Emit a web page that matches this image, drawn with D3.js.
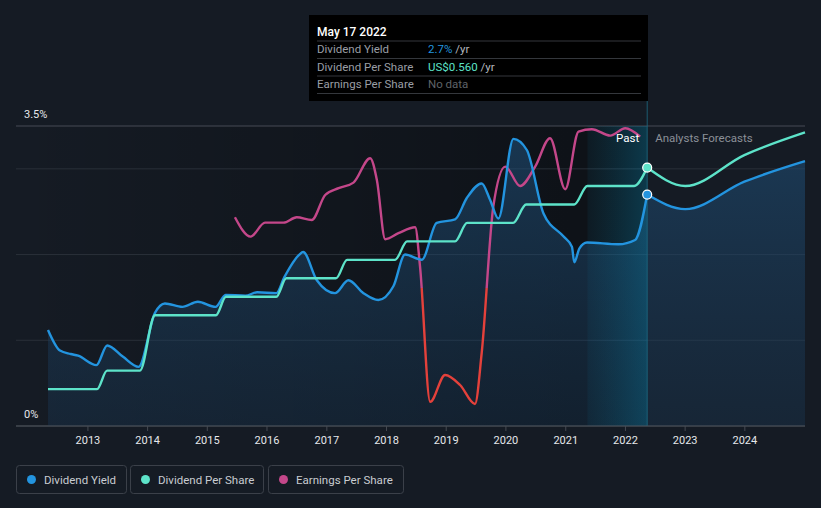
<!DOCTYPE html>
<html><head><meta charset="utf-8">
<script src="https://cdn.jsdelivr.net/npm/d3@7"></script>
<style>
html,body{margin:0;padding:0;background:#151b24;}
svg{display:block;font-family:Roboto,"Noto Sans",sans-serif;}
</style></head>
<body><svg id="c" width="821" height="508"></svg>
<script>
// ---- data ----
const yieldDates = ["2012-05-05","2012-07-17","2012-09-21","2012-11-05","2013-02-25","2013-05-02","2013-08-05","2013-11-10","2014-02-18","2014-04-20","2014-08-05","2014-11-07","2015-02-24","2015-04-26","2015-08-25","2015-11-05","2016-03-01","2016-04-20","2016-07-20","2016-08-12","2016-11-04","2017-02-23","2017-05-16","2017-08-16","2017-11-15","2018-02-15","2018-04-27","2018-08-08","2018-11-07","2019-02-27","2019-05-10","2019-08-09","2019-09-29","2019-11-19","2020-02-19","2020-05-11","2020-08-21","2020-12-22","2021-02-11","2021-02-25","2021-03-28","2021-05-14","2021-11-22","2022-03-04","2022-05-17"];
const yieldValues = [1.12,0.88,0.84,0.82,0.71,0.94,0.81,0.69,1.32,1.43,1.39,1.45,1.39,1.53,1.52,1.56,1.55,1.74,2.00,2.03,1.70,1.55,1.70,1.55,1.47,1.63,2.00,1.94,2.37,2.41,2.66,2.83,2.64,2.42,3.35,3.22,2.48,2.21,2.09,1.91,2.07,2.14,2.12,2.17,2.70];
const yieldFcDates = ["2022-05-17","2023-01-05","2024-01-01","2025-01-06"];
const yieldFcValues = [2.70,2.53,2.85,3.09];

const dpsDates = ["2012-05-05","2013-03-01","2013-05-01","2013-11-18","2014-02-18","2015-02-26","2015-04-28","2016-03-01","2016-05-01","2017-03-01","2017-05-08","2018-02-25","2018-05-10","2019-02-27","2019-05-12","2020-02-17","2020-05-07","2021-02-25","2021-05-16","2022-02-26","2022-05-17"];
const dpsValues = [0.08,0.08,0.12,0.12,0.24,0.24,0.28,0.28,0.32,0.32,0.36,0.36,0.40,0.40,0.44,0.44,0.48,0.48,0.52,0.52,0.56];
const dpsFcDates = ["2022-05-17","2023-01-05","2024-01-01","2025-01-06"];
const dpsFcValues = [0.56,0.52,0.587,0.636];

const epsDates = ["2015-06-22","2015-09-26","2015-12-23","2016-04-14","2016-07-04","2016-10-04","2016-12-25","2017-03-17","2017-06-16","2017-09-26","2017-11-06","2017-12-27","2018-03-18","2018-06-28","2018-07-28","2018-09-28","2018-12-28","2019-03-30","2019-06-29","2019-08-09","2019-10-19","2019-12-31","2020-03-31","2020-07-01","2020-09-30","2021-01-01","2021-03-23","2021-06-13","2021-10-03","2022-01-03","2022-04-04"];
const epsValues = [0.354,0.257,0.327,0.327,0.354,0.34,0.465,0.499,0.527,0.649,0.54,0.244,0.274,0.304,0.107,-0.569,-0.435,-0.485,-0.58,-0.325,0.407,0.607,0.51,0.607,0.749,0.494,0.782,0.794,0.762,0.799,0.757];

const yTickValues = [0, 1, 2, 3, 3.5];
const yTickLabels = {0:"0%", 3.5:"3.5%"};
const xTickYears = [2013,2014,2015,2016,2017,2018,2019,2020,2021,2022,2023,2024];
const todayDate = "2022-05-17";
const pastBandStart = "2021-05-17";
const legendItems = ["Dividend Yield","Dividend Per Share","Earnings Per Share"];
const tooltipRows = [["Dividend Yield","2.7%"," /yr"],["Dividend Per Share","US$0.560"," /yr"],["Earnings Per Share","No data",""]];

// ---- setup ----
const C = {bg:"#151b24", yld:"#2394df", dps:"#5de3c9", eps:"#c4478a", neg:"#e4413b"};
const P = d3.timeParse("%Y-%m-%d");
const svg = d3.select("#c");
const L = 16, R = 805, T = 126, B = 426, DL = 48;

const x = d3.scaleTime().domain([P("2012-05-05"), P("2025-01-06")]).range([DL, R]);
const y = d3.scaleLinear().domain([0, 3.5]).range([B, T]);
const yD = d3.scaleLinear().domain([0, 0.65]).range([B, T]);
const yE = d3.scaleLinear().domain([-0.69, 0.81]).range([B, T]);

const zip = (ds, vs) => ds.map((d,i)=>({d:P(d), v:vs[i]}));
const yld = zip(yieldDates, yieldValues), yldF = zip(yieldFcDates, yieldFcValues);
const dps = zip(dpsDates, dpsValues), dpsF = zip(dpsFcDates, dpsFcValues);
const eps = zip(epsDates, epsValues);

svg.append("rect").attr("width",821).attr("height",508).attr("fill",C.bg);
const defs = svg.append("defs");

const xT = x(P(todayDate)), xB = x(P(pastBandStart));

// past darkening
const g1 = defs.append("linearGradient").attr("id","pastDark").attr("gradientUnits","userSpaceOnUse")
  .attr("x1",L).attr("x2",xT).attr("y1",0).attr("y2",0);
g1.append("stop").attr("offset",0).attr("stop-color","#000").attr("stop-opacity",0);
g1.append("stop").attr("offset",1).attr("stop-color","#000").attr("stop-opacity",0.38);
svg.append("rect").attr("x",L).attr("y",T).attr("width",xT-L).attr("height",B-T).attr("fill","url(#pastDark)");

// area gradient
const g2 = defs.append("linearGradient").attr("id","areaG").attr("gradientUnits","userSpaceOnUse")
  .attr("x1",0).attr("x2",0).attr("y1",T).attr("y2",B);
g2.append("stop").attr("offset",0).attr("stop-color","#1f4f78").attr("stop-opacity",0.6);
g2.append("stop").attr("offset",1).attr("stop-color","#1a3a58").attr("stop-opacity",0.35);

// band gradient
const g3 = defs.append("linearGradient").attr("id","bandG").attr("gradientUnits","userSpaceOnUse")
  .attr("x1",xB).attr("x2",xT).attr("y1",0).attr("y2",0);
g3.append("stop").attr("offset",0).attr("stop-color","#0a7fa8").attr("stop-opacity",0.08);
g3.append("stop").attr("offset",1).attr("stop-color","#0a8fba").attr("stop-opacity",0.32);

// gridlines
svg.append("g").selectAll("line").data(yTickValues).join("line")
  .attr("x1",L).attr("x2",R).attr("y1",d=>y(d)).attr("y2",d=>y(d))
  .attr("stroke",d=>d===3.5?"#464b54":(d===0?"#454a52":"#2a3039")).attr("stroke-width",1);

// area under yield
const curve = d3.curveMonotoneX;
const area = d3.area().x(d=>x(d.d)).y0(B).y1(d=>y(d.v)).curve(curve);
svg.append("path").datum(yld).attr("d",area).attr("fill","url(#areaG)");
svg.append("path").datum(yldF).attr("d",area).attr("fill","url(#areaG)");

// past band
svg.append("rect").attr("x",xB).attr("y",T).attr("width",xT-xB).attr("height",B-T).attr("fill","url(#bandG)");
// today line
svg.append("line").attr("x1",xT).attr("x2",xT).attr("y1",100).attr("y2",B).attr("stroke","#1e6c84").attr("stroke-width",1).attr("opacity",0.8);

// axis
const xAxis = d3.axisBottom(x).tickValues(xTickYears.map(yv=>new Date(yv,0,1))).tickFormat(d3.timeFormat("%Y")).tickSize(5).tickSizeOuter(0);
const ax = svg.append("g").attr("transform",`translate(0,${B})`).call(xAxis);
ax.select(".domain").remove();
ax.selectAll(".tick line").attr("stroke","#454a52");
ax.selectAll(".tick text").attr("fill","#e6e8eb").attr("font-size",11).attr("dy","0.95em").attr("font-family","Roboto, sans-serif");
svg.append("line").attr("x1",L).attr("x2",R).attr("y1",B).attr("y2",B).attr("stroke","#454a52");

// y labels
svg.append("g").selectAll("text").data(Object.keys(yTickLabels).map(Number)).join("text")
  .attr("x",24).attr("y",d=>y(d)-8).attr("fill","#e6e8eb").attr("font-size",11).text(d=>yTickLabels[d]);

// lines
const line = (sc) => d3.line().x(d=>x(d.d)).y(d=>sc(d.v)).curve(curve);
const lw = 2.4;
// eps with clip
defs.append("clipPath").attr("id","posClip").append("rect").attr("x",0).attr("y",0).attr("width",821).attr("height",yE(0));
defs.append("clipPath").attr("id","negClip").append("rect").attr("x",0).attr("y",yE(0)).attr("width",821).attr("height",508);
svg.append("path").datum(eps).attr("d",line(yE)).attr("fill","none").attr("stroke",C.eps).attr("stroke-width",lw).attr("clip-path","url(#posClip)");
svg.append("path").datum(eps).attr("d",line(yE)).attr("fill","none").attr("stroke",C.neg).attr("stroke-width",lw).attr("clip-path","url(#negClip)");

svg.append("path").datum(yld).attr("d",line(y)).attr("fill","none").attr("stroke",C.yld).attr("stroke-width",lw);
svg.append("path").datum(yldF).attr("d",line(y)).attr("fill","none").attr("stroke",C.yld).attr("stroke-width",lw);
svg.append("path").datum(dps).attr("d",line(yD)).attr("fill","none").attr("stroke",C.dps).attr("stroke-width",lw);
svg.append("path").datum(dpsF).attr("d",line(yD)).attr("fill","none").attr("stroke",C.dps).attr("stroke-width",lw);

// today dots
svg.append("circle").attr("cx",xT).attr("cy",yD(dpsValues[dpsValues.length-1])).attr("r",4.5).attr("fill",C.dps).attr("stroke","#fff").attr("stroke-width",1.2);
svg.append("circle").attr("cx",xT).attr("cy",y(yieldValues[yieldValues.length-1])).attr("r",4.5).attr("fill",C.yld).attr("stroke","#fff").attr("stroke-width",1.2);

// past / forecast labels
svg.append("text").attr("x",xT-8).attr("y",142).attr("text-anchor","end").attr("fill","#ffffff").attr("font-size",11.5).text("Past");
svg.append("text").attr("x",xT+8).attr("y",142).attr("fill","#8b9098").attr("font-size",11.5).text("Analysts Forecasts");

// tooltip
const tt = svg.append("g");
tt.append("rect").attr("x",309).attr("y",15).attr("width",339).attr("height",86).attr("fill","#000");
tt.append("text").attr("x",317).attr("y",35.5).attr("fill","#fff").attr("font-size",12).attr("font-weight",500).text("May 17 2022");
[41,58.5,76,93.5].forEach(yy=>tt.append("line").attr("x1",317).attr("x2",641).attr("y1",yy).attr("y2",yy).attr("stroke","#34373c"));
const valColors = [C.yld, C.dps, "#5f6368"];
tooltipRows.forEach((r,i)=>{
  const by = 53 + i*17.6;
  tt.append("text").attr("x",317).attr("y",by).attr("fill","#9a9ea5").attr("font-size",11.5).text(r[0]);
  const t = tt.append("text").attr("x",428).attr("y",by).attr("font-size",11.5);
  t.append("tspan").attr("fill",valColors[i]).text(r[1]);
  t.append("tspan").attr("fill","#b5b9bf").text(r[2]);
});

// legend
const lg = svg.append("g");
const lx = [16,130,268], lwid = [110,133,135], lc = [C.yld, C.dps, C.eps];
legendItems.forEach((nm,i)=>{
  lg.append("rect").attr("x",lx[i]+0.5).attr("y",465.5).attr("width",lwid[i]).attr("height",28).attr("rx",3).attr("fill","none").attr("stroke","#3b4049");
  lg.append("circle").attr("cx",lx[i]+15.5).attr("cy",479.5).attr("r",4.5).attr("fill",lc[i]);
  lg.append("text").attr("x",lx[i]+28).attr("y",484).attr("fill","#c9ccd1").attr("font-size",11.5).text(nm);
});
</script></body></html>
